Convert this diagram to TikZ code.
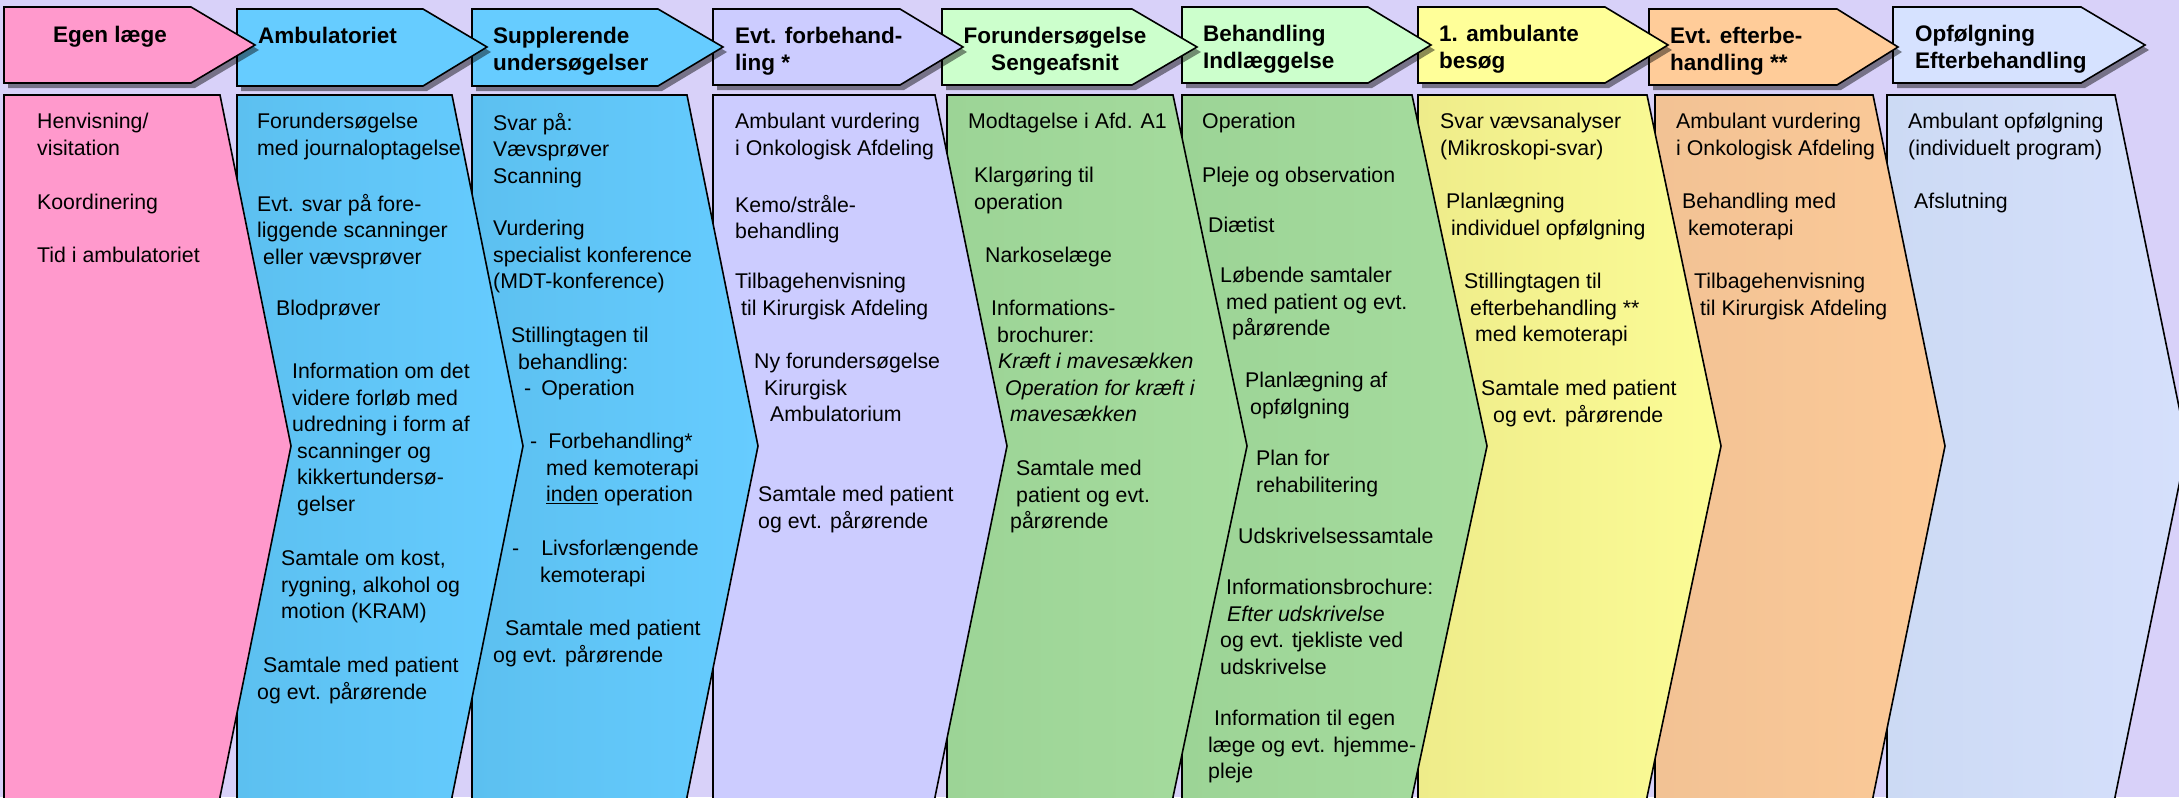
\documentclass[tikz,border=0pt]{standalone}
\usepackage{fontspec}
\setmainfont{Liberation Sans}
\usepackage{tikz}
\definecolor{cBg}{RGB}{216,209,249}
\definecolor{cPink}{RGB}{255,153,204}
\definecolor{cBlue}{RGB}{102,204,255}
\definecolor{cBlueD}{RGB}{92,192,240}
\definecolor{cLav}{RGB}{204,204,255}
\definecolor{cMint}{RGB}{204,255,204}
\definecolor{cGreen}{RGB}{166,220,158}
\definecolor{cGreenD}{RGB}{156,212,150}
\definecolor{cYel}{RGB}{255,255,153}
\definecolor{cYelL}{RGB}{252,252,150}
\definecolor{cYelD}{RGB}{238,236,138}
\definecolor{cOra}{RGB}{255,204,153}
\definecolor{cOraL}{RGB}{252,202,152}
\definecolor{cOraD}{RGB}{242,194,148}
\definecolor{cSky}{RGB}{214,226,255}
\definecolor{cSkyL}{RGB}{214,224,252}
\definecolor{cSkyD}{RGB}{204,218,244}
\tikzstyle{head} = [draw=black, line width=1.6bp, line join=miter]
\tikzstyle{shadow} = [fill=black, opacity=0.45]
\tikzstyle{body} = [draw=black, line width=1.6bp]
\tikzstyle{headtext} = [anchor=north west, inner sep=0pt, align=left, font=\bfseries\fontsize{22.5bp}{26.5bp}\selectfont]
\tikzstyle{bodytext} = [anchor=north west, inner sep=0pt, align=left, font=\fontsize{21.3bp}{26.5bp}\selectfont]

\begin{document}
\begin{tikzpicture}[x=1bp, y=-1bp]
		\useasboundingbox (0,0) rectangle (2179,797);
		\fill[cBg] (0,0) rectangle (2179,797);
		\clip (0,0) rectangle (2179,797);

		% bodies, right to left
		\filldraw[body, left color=cSkyD, right color=cSkyL] (1887,95) -- (2115,95) -- (2187,446) -- (2115,797) -- (2115,805) -- (1887,805) -- cycle;
		\filldraw[body, left color=cOraD, right color=cOraL] (1655,95) -- (1873,95) -- (1945,446) -- (1873,797) -- (1873,805) -- (1655,805) -- cycle;
		\filldraw[body, left color=cYelD, right color=cYelL] (1418,95) -- (1647,95) -- (1721,446) -- (1647,797) -- (1647,805) -- (1418,805) -- cycle;
		\filldraw[body, left color=cGreenD, right color=cGreen] (1182,95) -- (1412,95) -- (1487,446) -- (1412,797) -- (1412,805) -- (1182,805) -- cycle;
		\filldraw[body, left color=cGreenD, right color=cGreen] (947,95) -- (1173,95) -- (1247,446) -- (1173,797) -- (1173,805) -- (947,805) -- cycle;
		\filldraw[body, fill=cLav] (713,95) -- (935,95) -- (1007,446) -- (935,797) -- (935,805) -- (713,805) -- cycle;
		\filldraw[body, left color=cBlueD, right color=cBlue] (472,95) -- (687,95) -- (758,446) -- (687,797) -- (687,805) -- (472,805) -- cycle;
		\filldraw[body, left color=cBlueD, right color=cBlue] (237,95) -- (452,95) -- (523,446) -- (452,797) -- (452,805) -- (237,805) -- cycle;
		\filldraw[body, fill=cPink] (4,95) -- (220,95) -- (291,446) -- (220,797) -- (220,805) -- (4,805) -- cycle;

		% headers, right to left
		\fill[shadow, shift={(4,5)}] (1893,7) -- (2081,7) -- (2145,45) -- (2081,83) -- (1893,83) -- cycle;
		\filldraw[head, fill=cSky] (1893,7) -- (2081,7) -- (2145,45) -- (2081,83) -- (1893,83) -- cycle;
		\fill[shadow, shift={(4,5)}] (1649,9) -- (1837,9) -- (1898,47) -- (1837,85) -- (1649,85) -- cycle;
		\filldraw[head, fill=cOra] (1649,9) -- (1837,9) -- (1898,47) -- (1837,85) -- (1649,85) -- cycle;
		\fill[shadow, shift={(4,5)}] (1418,7) -- (1605,7) -- (1668,45) -- (1605,83) -- (1418,83) -- cycle;
		\filldraw[head, fill=cYel] (1418,7) -- (1605,7) -- (1668,45) -- (1605,83) -- (1418,83) -- cycle;
		\fill[shadow, shift={(4,5)}] (1182,7) -- (1368,7) -- (1431,45) -- (1368,83) -- (1182,83) -- cycle;
		\filldraw[head, fill=cMint] (1182,7) -- (1368,7) -- (1431,45) -- (1368,83) -- (1182,83) -- cycle;
		\fill[shadow, shift={(4,5)}] (942,9) -- (1132,9) -- (1197,47) -- (1132,85) -- (942,85) -- cycle;
		\filldraw[head, fill=cMint] (942,9) -- (1132,9) -- (1197,47) -- (1132,85) -- (942,85) -- cycle;
		\fill[shadow, shift={(4,5)}] (713,9) -- (900,9) -- (963,47) -- (900,85) -- (713,85) -- cycle;
		\filldraw[head, fill=cLav] (713,9) -- (900,9) -- (963,47) -- (900,85) -- (713,85) -- cycle;
		\fill[shadow, shift={(4,5)}] (472,9) -- (658,9) -- (723,47) -- (658,86) -- (472,86) -- cycle;
		\filldraw[head, fill=cBlue] (472,9) -- (658,9) -- (723,47) -- (658,86) -- (472,86) -- cycle;
		\fill[shadow, shift={(4,5)}] (237,9) -- (423,9) -- (487,47) -- (423,86) -- (237,86) -- cycle;
		\filldraw[head, fill=cBlue] (237,9) -- (423,9) -- (487,47) -- (423,86) -- (237,86) -- cycle;
		\fill[shadow, shift={(4,5)}] (4,7) -- (191,7) -- (255,45) -- (191,83) -- (4,83) -- cycle;
		\filldraw[head, fill=cPink] (4,7) -- (191,7) -- (255,45) -- (191,83) -- (4,83) -- cycle;

		% header texts
		\node (hEgen) [headtext] at (53,26) {Egen læge};
		\node (hAmb) [headtext] at (258,27) {Ambulatoriet};
		\node (hSupp) [headtext] at (493,27) {Supplerende\\undersøgelser};
		\node (hForb) [headtext] at (735,27) {Evt. forbehand-\\ling *};
		\node (hSeng) [headtext, anchor=north, align=center] at (1055,27) {Forundersøgelse\\Sengeafsnit};
		\node (hIndl) [headtext] at (1203,25) {Behandling\\Indlæggelse};
		\node (hBes) [headtext] at (1439,25) {1. ambulante\\besøg};
		\node (hEfter) [headtext] at (1670,27) {Evt. efterbe-\\handling **};
		\node (hOpf) [headtext] at (1915,25) {Opfølgning\\Efterbehandling};

		% Egen læge
		\node (egen1) [bodytext] at (37,113) {Henvisning/\\visitation};
		\node (egen2) [bodytext] at (37,194) {Koordinering};
		\node (egen3) [bodytext] at (37,247) {Tid i ambulatoriet};

		% Ambulatoriet
		\node (amb1) [bodytext] at (257,113) {Forundersøgelse\\med journaloptagelse};
		\node (amb2) [bodytext] at (257,194) {Evt. svar på fore-\\liggende scanninger\\\hspace*{6bp}eller vævsprøver};
		\node (amb3) [bodytext] at (276,300) {Blodprøver};
		\node (amb4) [bodytext] at (292,363) {Information om det\\videre forløb med\\udredning i form af\\\hspace*{5bp}scanninger og\\\hspace*{5bp}kikkertundersø-\\\hspace*{5bp}gelser};
		\node (amb5) [bodytext] at (281,550) {Samtale om kost,\\rygning, alkohol og\\motion (KRAM)};
		\node (amb6) [bodytext] at (257,657) {\hspace*{6bp}Samtale med patient\\og evt. pårørende};

		% Supplerende undersøgelser
		\node (supp1) [bodytext] at (493,113) {Svar på:\\Vævsprøver\\Scanning};
		\node (supp2) [bodytext] at (493,220) {Vurdering\\specialist konference\\(MDT-konference)};
		\node (supp3) [bodytext] at (511,327) {Stillingtagen til\\\hspace*{7bp}behandling:\\\hspace*{13bp}-\hspace{10bp}Operation};
		\node (supp4) [bodytext] at (530,433) {-\hspace{11bp}Forbehandling*\\\hspace*{16bp}med kemoterapi\\\hspace*{16bp}\underline{inden} operation};
		\node (supp5) [bodytext] at (512,540) {-\hspace{22bp}Livsforlængende\\\hspace*{28bp}kemoterapi};
		\node (supp6) [bodytext] at (493,620) {\hspace*{12bp}Samtale med patient\\og evt. pårørende};

		% Evt. forbehandling
		\node (forb1) [bodytext] at (735,113) {Ambulant vurdering\\i Onkologisk Afdeling};
		\node (forb2) [bodytext] at (735,195) {Kemo/stråle-\\behandling};
		\node (forb3) [bodytext] at (735,273) {Tilbagehenvisning\\\hspace*{6bp}til Kirurgisk Afdeling};
		\node (forb4) [bodytext] at (754,353) {Ny forundersøgelse\\\hspace*{10bp}Kirurgisk\\\hspace*{16bp}Ambulatorium};
		\node (forb5) [bodytext] at (758,486) {Samtale med patient\\og evt. pårørende};

		% Forundersøgelse Sengeafsnit
		\node (seng1) [bodytext] at (968,113) {Modtagelse i Afd. A1};
		\node (seng2) [bodytext] at (974,167) {Klargøring til\\operation};
		\node (seng3) [bodytext] at (985,247) {Narkoselæge};
		\node (seng4) [bodytext] at (991,300) {Informations-\\\hspace*{6bp}brochurer:\\\hspace*{7bp}\textit{Kræft i mavesækken}\\\hspace*{14bp}\textit{Operation for kræft i}\\\hspace*{19bp}\textit{mavesækken}};
		\node (seng5) [bodytext] at (1010,460) {\hspace*{6bp}Samtale med\\\hspace*{6bp}patient og evt.\\pårørende};

		% Behandling Indlaeggelse
		\node (indl1) [bodytext] at (1202,113) {Operation};
		\node (indl2) [bodytext] at (1202,167) {Pleje og observation};
		\node (indl3) [bodytext] at (1208,217) {Diætist};
		\node (indl4) [bodytext] at (1220,267) {Løbende samtaler\\\hspace*{6bp}med patient og evt.\\\hspace*{12bp}pårørende};
		\node (indl5) [bodytext] at (1245,372) {Planlægning af\\\hspace*{5bp}opfølgning};
		\node (indl6) [bodytext] at (1256,450) {Plan for\\rehabilitering};
		\node (indl7) [bodytext] at (1238,528) {Udskrivelsessamtale};
		\node (indl8) [bodytext] at (1220,579) {\hspace*{6bp}Informationsbrochure:\\\hspace*{7bp}\textit{Efter udskrivelse}\\og evt. tjekliste ved\\udskrivelse};
		\node (indl9) [bodytext] at (1208,710) {\hspace*{6bp}Information til egen\\læge og evt. hjemme-\\pleje};

		% 1. ambulante besoeg
		\node (bes1) [bodytext] at (1440,113) {Svar vævsanalyser\\(Mikroskopi-svar)};
		\node (bes2) [bodytext] at (1446,193) {Planlægning\\\hspace*{5bp}individuel opfølgning};
		\node (bes3) [bodytext] at (1464,273) {Stillingtagen til\\\hspace*{6bp}efterbehandling **\\\hspace*{11bp}med kemoterapi};
		\node (bes4) [bodytext] at (1481,380) {Samtale med patient\\\hspace*{12bp}og evt. pårørende};

		% Evt. efterbehandling
		\node (efter1) [bodytext] at (1676,113) {Ambulant vurdering\\i Onkologisk Afdeling};
		\node (efter2) [bodytext] at (1682,193) {Behandling med\\\hspace*{6bp}kemoterapi};
		\node (efter3) [bodytext] at (1694,273) {Tilbagehenvisning\\\hspace*{6bp}til Kirurgisk Afdeling};

		% Opfoelgning
		\node (opf1) [bodytext] at (1908,113) {Ambulant opfølgning\\(individuelt program)};
		\node (opf2) [bodytext] at (1914,193) {Afslutning};
		\end{tikzpicture}
\end{document}
